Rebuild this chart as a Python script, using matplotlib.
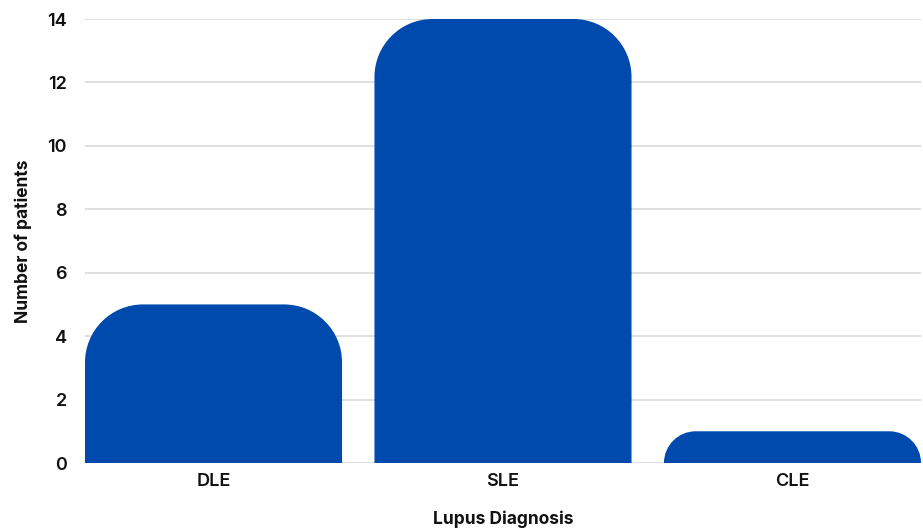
import numpy as np
import matplotlib.pyplot as plt
from matplotlib.path import Path
from matplotlib.patches import PathPatch

categories = ["DLE", "SLE", "CLE"]
patients = [5, 14, 1]
yticks = [0, 2, 4, 6, 8, 10, 12, 14]

bar_color = "#004AAD"
bar_width = 0.888
corner_px = 58

plt.rcParams['font.family'] = ['Inter', 'DejaVu Sans']

fig = plt.figure(figsize=(9.23, 5.30), dpi=100)
ax = fig.add_axes([85 / 923, 67 / 530, 836 / 923, 444 / 530])

ax.set_xlim(-bar_width / 2, len(categories) - 1 + bar_width / 2)
ax.set_ylim(0, 14)

# pixels per data unit, used to keep the corners round on screen
px_x = 836 / (len(categories) - 1 + bar_width)
px_y = 444 / 14
k = 0.5523


def rounded_bar(x, h):
    r = min(corner_px, h * px_y)
    rx, ry = r / px_x, r / px_y
    x0, x1 = x - bar_width / 2, x + bar_width / 2
    verts = [
        (x0, 0), (x0, h - ry),
        (x0, h - ry + k * ry), (x0 + rx - k * rx, h), (x0 + rx, h),
        (x1 - rx, h),
        (x1 - rx + k * rx, h), (x1, h - ry + k * ry), (x1, h - ry),
        (x1, 0), (x0, 0),
    ]
    codes = [Path.MOVETO, Path.LINETO,
             Path.CURVE4, Path.CURVE4, Path.CURVE4,
             Path.LINETO,
             Path.CURVE4, Path.CURVE4, Path.CURVE4,
             Path.LINETO, Path.CLOSEPOLY]
    return PathPatch(Path(verts, codes), facecolor=bar_color, edgecolor='none', zorder=3)


for i, v in enumerate(patients):
    ax.add_patch(rounded_bar(i, v))

for t in yticks:
    ax.axhline(t, color='#d6d6d6', linewidth=1.1, zorder=1)

for s in ax.spines.values():
    s.set_visible(False)

ax.set_xticks(range(len(categories)))
ax.set_xticklabels(categories)
ax.set_yticks(yticks)
ax.tick_params(length=0, labelsize=13, colors='#111111')
ax.tick_params(axis='y', pad=13)
ax.tick_params(axis='x', pad=7)
for lab in ax.get_xticklabels() + ax.get_yticklabels():
    lab.set_fontweight('semibold')

ax.set_xlabel("Lupus Diagnosis", fontsize=12.5, fontweight='bold', labelpad=15, color='#111111')
ax.set_ylabel("Number of patients", fontsize=12.5, fontweight='bold', labelpad=11, color='#111111')

fig.savefig("out.png", dpi=100)
